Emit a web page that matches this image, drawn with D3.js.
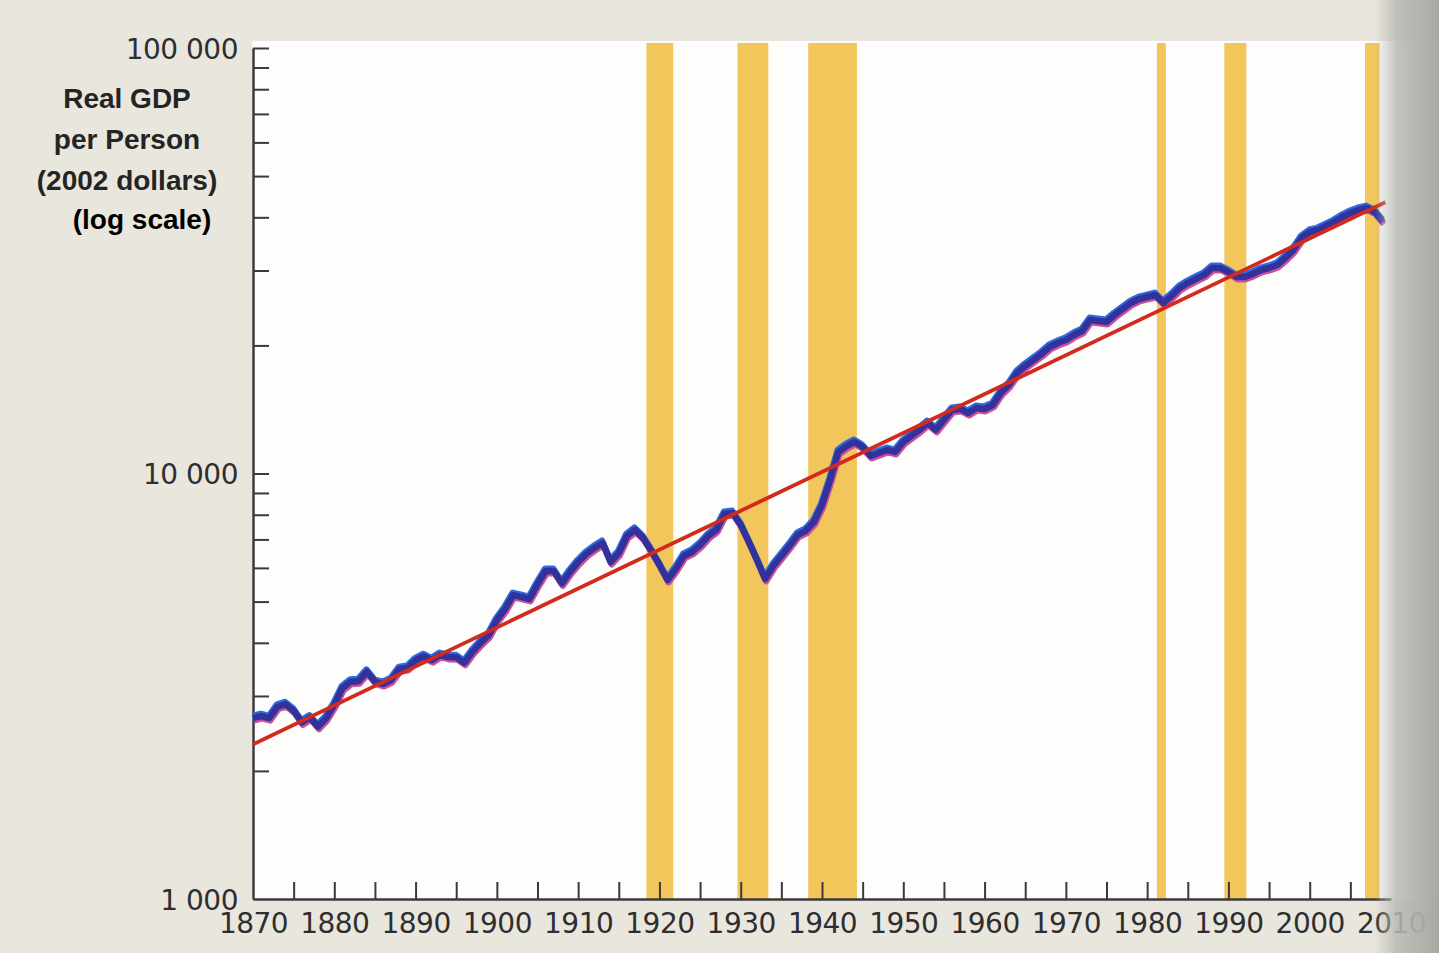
<!DOCTYPE html>
<html>
<head>
<meta charset="utf-8">
<script src="https://cdn.jsdelivr.net/npm/d3@7"></script>
<style>
  body { margin: 0; background: #e9e6de; }
  svg { display: block; }
  .tick text { font-family: "DejaVu Sans", "Liberation Sans", sans-serif; fill: #2e2e2e; }
</style>
</head>
<body>
<svg id="chart" width="1439" height="953"></svg>
<script>
// real GDP per person, 2002 dollars, one value per year from 1870
const firstYear = 1870;
const gdp = [
  2660, 2690, 2660, 2830, 2870, 2770, 2600, 2670, 2540, 2660,
  2860, 3130, 3240, 3250, 3420, 3240, 3200, 3270, 3470, 3490,
  3640, 3720, 3640, 3745, 3705, 3700, 3590, 3810, 4000, 4170,
  4525, 4800, 5180, 5130, 5070, 5490, 5900, 5900, 5515, 5870,
  6190, 6470, 6680, 6870, 6190, 6500, 7130, 7370, 7050, 6575,
  6095, 5620, 5960, 6400, 6540, 6790, 7130, 7370, 8030, 8075,
  7570, 6900, 6260, 5650, 6060, 6400, 6760, 7170, 7330, 7690,
  8430, 9650, 11230, 11600, 11860, 11540, 10990, 11170, 11360, 11230,
  11860, 12250, 12660, 13140, 12660, 13360, 14100, 14180, 13870, 14250,
  14180, 14490, 15460, 16140, 17230, 17890, 18480, 19090, 19830, 20260,
  20600, 21160, 21620, 22950, 22830, 22700, 23580, 24360, 25160, 25710,
  25990, 26270, 25160, 26130, 27290, 28030, 28660, 29280, 30410, 30410,
  29760, 28960, 28960, 29440, 30080, 30410, 30900, 32090, 33510, 35770,
  36950, 37350, 38160, 39000, 40070, 40950, 41630, 42070, 41170, 39000
];
// trend line end points
const trendYears = [1870, 2009.3];
const trendValues = [2310, 43400];
// shaded episodes (start, end)
const shadeStart = [1918.4, 1929.6, 1938.3, 1981.2, 1989.5, 2006.8];
const shadeEnd   = [1921.7, 1933.4, 1944.3, 1982.3, 1992.2, 2008.6];
const xLabels = d3.range(1870, 2011, 10);
const xTicks = d3.range(1875, 2010, 5);
const yTicks = [2000, 3000, 4000, 5000, 6000, 7000, 8000, 9000, 10000,
                20000, 30000, 40000, 50000, 60000, 70000, 80000, 90000, 100000];
const yLabels = [1000, 10000, 100000];
const titleLines = ["Real GDP", "per Person", "(2002 dollars)"];

const svg = d3.select('#chart');
const pLeft = 253, pRight = 1391, pTop = 48, pBottom = 899;

const x = d3.scaleLinear().domain([1870, 2010]).range([pLeft, pRight]);
const y = d3.scaleLog().domain([1000, 100000]).range([pBottom, pTop]);

// white chart paper
svg.append('rect')
  .attr('x', pLeft - 1).attr('y', pTop - 7)
  .attr('width', 1439 - pLeft).attr('height', pBottom - pTop + 7)
  .attr('fill', '#fdfdfc');

// shaded bars
svg.append('g')
  .selectAll('rect')
  .data(shadeStart.map((s, i) => [s, shadeEnd[i]]))
  .join('rect')
    .attr('x', d => x(d[0]))
    .attr('y', pTop - 5)
    .attr('width', d => x(d[1]) - x(d[0]))
    .attr('height', pBottom - pTop + 5)
    .attr('fill', '#f3c65c');

// x axis
const xAxis = svg.append('g')
  .attr('transform', `translate(0, ${pBottom})`)
  .call(d3.axisBottom(x).tickValues(xTicks).tickSizeInner(-17).tickSizeOuter(0).tickFormat(''));
xAxis.select('.domain').attr('stroke', '#3a3a3a').attr('stroke-width', 2.5);
xAxis.selectAll('.tick line').attr('stroke', '#3a3a3a').attr('stroke-width', 2);

const xLab = svg.append('g')
  .attr('transform', `translate(0, ${pBottom})`)
  .call(d3.axisBottom(x).tickValues(xLabels).tickSize(0).tickPadding(14).tickFormat(d3.format('d')));
xLab.select('.domain').remove();
xLab.selectAll('text').attr('font-size', 28).attr('letter-spacing', -0.5);

// y axis
const yAxis = svg.append('g')
  .attr('transform', `translate(${pLeft}, 0)`)
  .call(d3.axisLeft(y).tickValues(yTicks).tickSizeInner(-16).tickSizeOuter(0).tickFormat(''));
yAxis.select('.domain').attr('stroke', '#3a3a3a').attr('stroke-width', 2.5);
yAxis.selectAll('.tick line').attr('stroke', '#3a3a3a').attr('stroke-width', 2);

const yLab = svg.append('g')
  .attr('transform', `translate(${pLeft}, 0)`)
  .call(d3.axisLeft(y).tickValues(yLabels).tickSize(0).tickPadding(15)
    .tickFormat(d => d3.format(',')(d).replace(/,/g, ' ')));
yLab.select('.domain').remove();
yLab.selectAll('text').attr('font-size', 28).attr('dy', '0.36em').attr('letter-spacing', -0.5);

// series, printed with a slight colour misregistration
const pts = gdp.map((v, i) => [firstYear + i, v]);
const line = d3.line().x(d => x(d[0])).y(d => y(d[1])).curve(d3.curveLinear);

svg.append('path').datum(pts).attr('d', line)
  .attr('transform', 'translate(1,2.2)')
  .attr('fill', 'none').attr('stroke', '#cc4f9c').attr('stroke-width', 6.5)
  .attr('stroke-linejoin', 'round');
svg.append('path').datum(pts).attr('d', line)
  .attr('transform', 'translate(-0.5,-2.2)')
  .attr('fill', 'none').attr('stroke', '#2c6be0').attr('stroke-width', 6.5)
  .attr('stroke-linejoin', 'round');
svg.append('path').datum(pts).attr('d', line)
  .attr('fill', 'none').attr('stroke', '#33319a').attr('stroke-width', 6.5)
  .attr('stroke-linejoin', 'round');

svg.append('path')
  .datum(trendYears.map((t, i) => [t, trendValues[i]]))
  .attr('d', line)
  .attr('fill', 'none').attr('stroke', '#d22b1e').attr('stroke-width', 3.8);

// axis title
const title = svg.append('text')
  .attr('font-family', '"Liberation Sans", Arial, sans-serif')
  .attr('font-weight', 'bold').attr('font-size', 28)
  .attr('text-anchor', 'middle').attr('fill', '#242424');
titleLines.forEach((t, i) => {
  title.append('tspan').attr('x', 127).attr('y', 108 + i * 41).text(t);
});
svg.append('text')
  .attr('x', 142).attr('y', 229)
  .attr('font-family', '"Liberation Sans", Arial, sans-serif')
  .attr('font-weight', 'bold').attr('font-size', 28)
  .attr('text-anchor', 'middle').attr('fill', '#000')
  .text('(log scale)');

// page curving away on the right
const grad = svg.append('defs').append('linearGradient').attr('id', 'fold');
grad.append('stop').attr('offset', '0%').attr('stop-color', '#b8b8b3').attr('stop-opacity', 0);
grad.append('stop').attr('offset', '35%').attr('stop-color', '#b8b8b3').attr('stop-opacity', 0.85);
grad.append('stop').attr('offset', '100%').attr('stop-color', '#a9a9a4').attr('stop-opacity', 1);
svg.append('rect')
  .attr('x', 1374).attr('y', 0).attr('width', 65).attr('height', 953)
  .attr('fill', 'url(#fold)');
</script>
</body>
</html>
